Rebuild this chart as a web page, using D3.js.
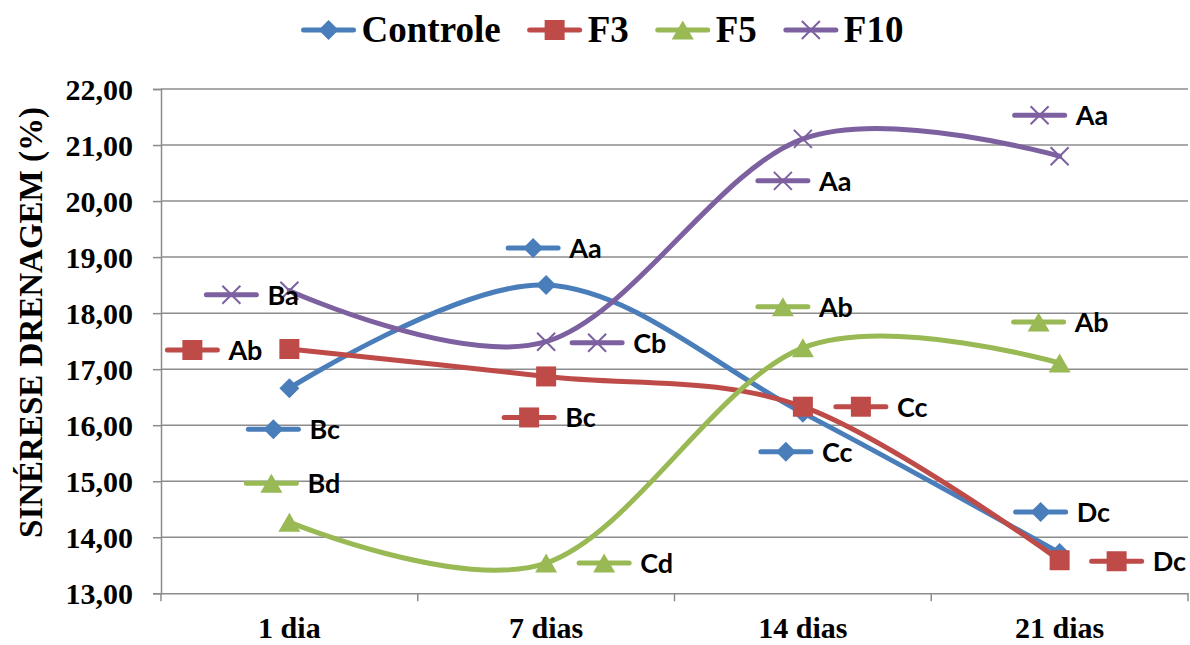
<!DOCTYPE html>
<html>
<head>
<meta charset="utf-8">
<script src="https://cdn.jsdelivr.net/npm/d3@7"></script>
<style>
  html, body { margin: 0; padding: 0; background: #ffffff; }
  svg { display: block; }
</style>
</head>
<body>
<svg id="chart" width="1190" height="645"></svg>
<script>
// Sinérese por drenagem (%) ao longo do armazenamento
const categories = ["1 dia", "7 dias", "14 dias", "21 dias"];
const seriesNames = ["Controle", "F3", "F5", "F10"];

const controle = [16.66, 18.50, 16.22, 13.72];
const f3       = [17.36, 16.87, 16.33, 13.59];
const f5       = [14.27, 13.54, 17.38, 17.11];
const f10      = [18.40, 17.49, 21.11, 20.80];

// letras de significância exibidas junto a cada ponto
const controleLetters = ["Bc", "Aa", "Cc", "Dc"];
const f3Letters       = ["Ab", "Bc", "Cc", "Dc"];
const f5Letters       = ["Bd", "Cd", "Ab", "Ab"];
const f10Letters      = ["Ba", "Cb", "Aa", "Aa"];

const yTicks = [13, 14, 15, 16, 17, 18, 19, 20, 21, 22];

// deslocamento (px) de cada rótulo em relação ao seu ponto
const controleLabelOffset = [[-16, 41], [-13, -37], [-17, 39], [-19, -41]];
const f3LabelOffset       = [[-97, 1], [-17, 41], [58, 0], [57, 1]];
const f5LabelOffset       = [[-18, -39], [58, 0], [-20, -41], [-21, -41]];
const f10LabelOffset      = [[-58, 4], [51, 1], [-20, 42], [-20, -41]];

const colors = ["#4a7ebb", "#be4b48", "#98b954", "#7d60a0"];
const markerTypes = ["diamond", "square", "triangle", "cross"];

const series = [
  { name: seriesNames[0], values: controle, letters: controleLetters, offs: controleLabelOffset },
  { name: seriesNames[1], values: f3,       letters: f3Letters,       offs: f3LabelOffset },
  { name: seriesNames[2], values: f5,       letters: f5Letters,       offs: f5LabelOffset },
  { name: seriesNames[3], values: f10,      letters: f10Letters,      offs: f10LabelOffset }
].map((s, i) => ({ ...s, color: colors[i], marker: markerTypes[i] }));

const svg = d3.select("#chart");
const SERIF = "'Liberation Serif', 'Times New Roman', serif";
const SANS = "Lato, 'Open Sans', sans-serif";
const GRID = "#8c8c8c";

const plot = { left: 161, right: 1188, top: 89, bottom: 593.3 };

const x = d3.scaleBand().domain(categories).range([plot.left, plot.right]);
const y = d3.scaleLinear().domain([13, 22]).range([plot.bottom, plot.top]);
const ptX = c => x(c) + x.bandwidth() / 2;

const locale = d3.formatLocale({ decimal: ",", thousands: ".", grouping: [3], currency: ["R$", ""] });
const fmt = locale.format(".2f");

// grade horizontal
svg.append("g")
  .selectAll("line")
  .data(yTicks.slice(1))
  .join("line")
  .attr("x1", plot.left).attr("x2", plot.right)
  .attr("y1", d => y(d)).attr("y2", d => y(d))
  .attr("stroke", GRID).attr("stroke-width", 1.5);

// eixo Y
const yAxis = svg.append("g")
  .attr("transform", `translate(${plot.left},0)`)
  .call(d3.axisLeft(y).tickValues(yTicks).tickFormat(fmt).tickSize(8).tickPadding(20));
yAxis.select(".domain").attr("stroke", GRID).attr("stroke-width", 1.5);
yAxis.selectAll(".tick line").attr("stroke", GRID).attr("stroke-width", 1.5);
yAxis.selectAll(".tick text")
  .attr("font-family", SERIF).attr("font-weight", "bold").attr("font-size", 30)
  .attr("fill", "#000").attr("dy", "0.34em");

// eixo X
const xAxis = svg.append("g")
  .attr("transform", `translate(0,${plot.bottom})`)
  .call(d3.axisBottom(x).tickSize(0).tickPadding(0));
xAxis.select(".domain").attr("stroke", GRID).attr("stroke-width", 1.5);
xAxis.selectAll(".tick text")
  .attr("font-family", SERIF).attr("font-weight", "bold").attr("font-size", 30)
  .attr("fill", "#000").attr("y", 45).attr("dy", 0);
// marcas nos limites das categorias
const bounds = categories.map(c => x(c)).concat([plot.right]);
svg.append("g").selectAll("line")
  .data(bounds)
  .join("line")
  .attr("x1", d => d).attr("x2", d => d)
  .attr("y1", plot.bottom).attr("y2", plot.bottom + 8)
  .attr("stroke", GRID).attr("stroke-width", 1.5);

// título do eixo Y
svg.append("text")
  .attr("transform", `translate(42,${(112 + 533) / 2}) rotate(-90)`)
  .attr("text-anchor", "middle")
  .attr("font-family", SERIF).attr("font-weight", "bold").attr("font-size", 33)
  .attr("fill", "#000")
  .text("SINÉRESE DRENAGEM (%)");

// desenho dos marcadores
function drawMarker(g, type, cx, cy, color) {
  if (type === "diamond") {
    const r = 10;
    g.append("path")
      .attr("d", `M${cx},${cy - r}L${cx + r},${cy}L${cx},${cy + r}L${cx - r},${cy}Z`)
      .attr("fill", color);
  } else if (type === "square") {
    const h = 10;
    g.append("rect")
      .attr("x", cx - h).attr("y", cy - h).attr("width", 2 * h).attr("height", 2 * h)
      .attr("fill", color);
  } else if (type === "triangle") {
    const w = 11, h = 9.5;
    g.append("path")
      .attr("d", `M${cx},${cy - h}L${cx + w},${cy + h}L${cx - w},${cy + h}Z`)
      .attr("fill", color);
  } else if (type === "cross") {
    const r = 9;
    g.append("path")
      .attr("d", `M${cx - r},${cy - r}L${cx + r},${cy + r}M${cx - r},${cy + r}L${cx + r},${cy - r}`)
      .attr("stroke", color).attr("stroke-width", 2).attr("fill", "none");
  }
}

const line = d3.line()
  .x((d, i) => ptX(categories[i]))
  .y(d => y(d))
  .curve(d3.curveCardinal.tension(0));

// séries: linha suavizada + marcadores
series.forEach(s => {
  const g = svg.append("g");
  g.append("path")
    .attr("d", line(s.values))
    .attr("fill", "none")
    .attr("stroke", s.color)
    .attr("stroke-width", 5)
    .attr("stroke-linecap", "round")
    .attr("stroke-linejoin", "round");
  s.values.forEach((v, i) => drawMarker(g, s.marker, ptX(categories[i]), y(v), s.color));
});

// chave de legenda (linha curta com marcador)
function drawKey(g, s, cx, cy) {
  g.append("line")
    .attr("x1", cx - 25).attr("x2", cx + 25)
    .attr("y1", cy).attr("y2", cy)
    .attr("stroke", s.color).attr("stroke-width", 5)
    .attr("stroke-linecap", "round");
  drawMarker(g, s.marker, cx, cy, s.color);
}

// rótulos de significância
series.forEach(s => {
  const g = svg.append("g");
  s.values.forEach((v, i) => {
    const cx = ptX(categories[i]) + s.offs[i][0];
    const cy = y(v) + s.offs[i][1];
    drawKey(g, s, cx, cy);
    g.append("text")
      .attr("x", cx + 36).attr("y", cy + 10)
      .attr("font-family", SANS).attr("font-weight", "bold").attr("font-size", 27)
      .attr("fill", "#000")
      .text(s.letters[i]);
  });
});

// legenda superior
const legend = svg.append("g");
const legendY = 30;
const items = series.map(s => {
  const g = legend.append("g");
  drawKey(g, s, 28, legendY);
  const t = g.append("text")
    .attr("x", 61).attr("y", legendY + 12)
    .attr("font-family", SERIF).attr("font-weight", "bold").attr("font-size", 37)
    .attr("fill", "#000")
    .text(s.name);
  const w = 61 + t.node().getComputedTextLength();
  return { g, w };
});
const gap = 26;
const total = d3.sum(items, d => d.w) + gap * (items.length - 1);
let cursor = 602 - total / 2;
items.forEach(it => {
  it.g.attr("transform", `translate(${cursor},0)`);
  cursor += it.w + gap;
});
</script>
</body>
</html>
